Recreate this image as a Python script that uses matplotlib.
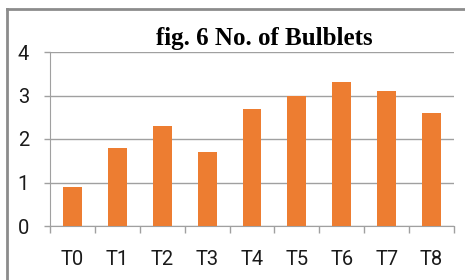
import numpy as np
import matplotlib
matplotlib.use("Agg")
import matplotlib.pyplot as plt
from matplotlib.lines import Line2D

# ============================================================
# Data
# ============================================================

categories = ["T0", "T1", "T2", "T3", "T4", "T5", "T6", "T7", "T8"]
bulblets = [0.9, 1.8, 2.3, 1.7, 2.7, 3.0, 3.3, 3.1, 2.6]
y_ticks = [0, 1, 2, 3, 4]

BAR_COLOR = "#ED7D31"
GRID_COLOR = "#A0A0A0"
TICK_FONT = ["Liberation Sans Narrow", "Roboto", "DejaVu Sans"]

# ============================================================
# Plot
# ============================================================

fig = plt.figure(figsize=(4.65, 2.8), dpi=100)
ax = fig.add_axes([50 / 465, 1 - 226 / 280, 404 / 465, 174 / 280])

x = np.arange(len(categories))
ax.bar(x, bulblets, width=0.42, color=BAR_COLOR, zorder=3)

ax.set_xlim(-0.5, len(categories) - 0.5)
ax.set_ylim(0, 4)
ax.set_yticks(y_ticks)
ax.set_yticklabels([str(v) for v in y_ticks], fontsize=14.5, family=TICK_FONT, color="#1a1a1a")
ax.set_xticks(x)
ax.set_xticklabels(categories, fontsize=14.5, family=TICK_FONT, color="#1a1a1a")
ax.set_xticks(np.arange(-0.5, len(categories)), minor=True)

ax.tick_params(axis="x", which="major", length=0, pad=17)
ax.tick_params(axis="x", which="minor", length=5, color=GRID_COLOR, width=1)
ax.tick_params(axis="y", length=4, color=GRID_COLOR, width=1, pad=11)

ax.grid(axis="y", color=GRID_COLOR, linewidth=1, zorder=0)
for side in ["top", "right"]:
    ax.spines[side].set_visible(False)
ax.spines["left"].set_color(GRID_COLOR)
ax.spines["bottom"].set_color(GRID_COLOR)

fig.text(264 / 465, 1 - 45 / 280, "fig. 6 No. of Bulblets", ha="center", va="baseline",
         fontsize=18, fontweight="bold", family=["Liberation Serif", "DejaVu Serif"])

# outer frame
fig.add_artist(Line2D([7 / 465, 1], [1 - 9 / 280, 1 - 9 / 280], color="#8c8c8c", linewidth=2))
fig.add_artist(Line2D([7 / 465, 7 / 465], [0, 1 - 9 / 280], color="#8c8c8c", linewidth=2))

fig.savefig("out.png", dpi=100)
